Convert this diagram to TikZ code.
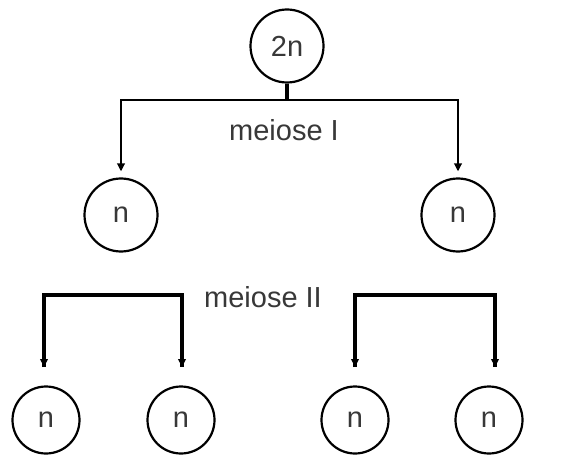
\documentclass[tikz,border=0pt]{standalone}
\usepackage{fontspec}
\setmainfont{Liberation Sans}
\usetikzlibrary{arrows.meta}
\begin{document}
\begin{tikzpicture}[x=1pt,y=-1pt,
  txt/.style={text=black!78,font=\fontsize{29}{30}\selectfont},
  cell/.style={circle,draw,line width=2.2pt,inner sep=0pt,txt},
  big/.style={cell,minimum size=73pt},
  small/.style={cell,minimum size=67pt},
  thinline/.style={line width=2pt},
  thickline/.style={line width=3.2pt},
  arr/.style={-{Triangle[length=8pt,width=7.5pt]}}]
\useasboundingbox (0,0) rectangle (564,457);
% nodes
\node[big] (top) at (287,46) {2n};
\node[big] (m1) at (121,215) {n};
\node[big] (m2) at (458,215) {n};
\node[small] (b1) at (46,420) {n};
\node[small] (b2) at (181,420) {n};
\node[small] (b3) at (355,420) {n};
\node[small] (b4) at (489,420) {n};
\node[txt] (l1) at (284,130) {meiose I};
\node[txt] (l2) at (263,297) {meiose II};
% meiose I connector
\coordinate (j1) at (287,100);
\draw[line width=3.5pt] (top.south) -- (j1);
\draw[thinline,arr,shorten >=6pt] (j1) -| (m1.north);
\draw[thinline,arr,shorten >=6pt] (j1) -| (m2.north);
% meiose II connectors
\coordinate (k1) at (44,295);
\coordinate (k2) at (182,295);
\coordinate (k3) at (355,295);
\coordinate (k4) at (495,295);
\coordinate (t1) at (44,367);
\coordinate (t2) at (182,367);
\coordinate (t3) at (355,367);
\coordinate (t4) at (495,367);
\draw[thickline,line join=miter] (t1) -- (k1) -- (k2) -- (t2);
\draw[thickline,line join=miter] (t3) -- (k3) -- (k4) -- (t4);
\draw[thinline,arr] (k1) -- (t1);
\draw[thinline,arr] (k2) -- (t2);
\draw[thinline,arr] (k3) -- (t3);
\draw[thinline,arr] (k4) -- (t4);
\end{tikzpicture}
\end{document}
